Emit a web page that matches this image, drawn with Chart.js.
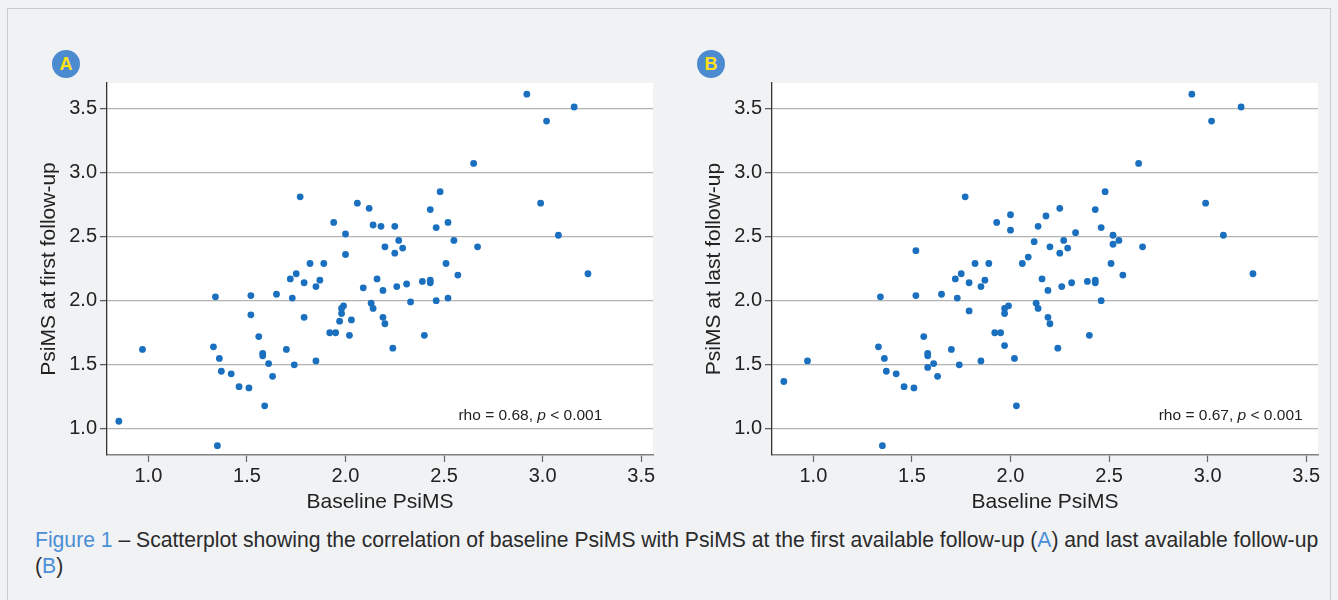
<!DOCTYPE html>
<html>
<head>
<meta charset="utf-8">
<script src="https://cdn.jsdelivr.net/npm/chart.js@4.4.0/dist/chart.umd.min.js"></script>
<style>
  body { margin: 0; background: #f1f2f4; font-family: "Liberation Sans", Arial, sans-serif; width: 1338px; height: 600px; overflow: hidden; }
  #frame { position: absolute; left: 7px; top: 8px; width: 1324px; height: 600px; border: 1px solid #c9cbcf; border-bottom: none; box-sizing: border-box; }
  .panel { position: absolute; top: 75px; width: 630px; height: 445px; }
  .badge { position: absolute; top: 50px; width: 28px; height: 28px; border-radius: 50%; background: #4d8bd0; color: #ffe11a; font-weight: bold; font-size: 18px; line-height: 28px; text-align: center; }
  #caption { position: absolute; left: 35px; top: 527px; font-size: 21.15px; line-height: 26px; color: #2b2b2b; white-space: nowrap; }
  #caption .blue { color: #4a8fd6; }
</style>
</head>
<body>
<div id="frame"></div>
<div class="badge" style="left:52px">A</div>
<div class="badge" style="left:697px">B</div>
<div class="panel" style="left:30px"><canvas id="chartA" width="630" height="445"></canvas></div>
<div class="panel" style="left:695px"><canvas id="chartB" width="630" height="445"></canvas></div>
<div id="caption"><span class="blue">Figure 1</span> – Scatterplot showing the correlation of baseline PsiMS with PsiMS at the first available follow-up (<span class="blue">A</span>) and last available follow-up<br>(<span class="blue">B</span>)</div>

<script>
// Panel A: baseline vs first follow-up
const baselineA = [1.77, 2.48, 2.06, 2.12, 2.43, 1.94, 2.52, 2.14, 2.18, 2.25, 2.46, 2.00, 2.27, 2.55, 2.20, 2.29, 2.25, 2.00, 1.82, 1.89, 2.51,
  1.75, 1.72, 2.57, 1.87, 1.79, 1.85, 2.16, 2.39, 2.43, 2.43, 2.31, 2.26, 2.09, 2.19, 1.34, 1.52, 1.65, 1.73, 2.46, 2.52, 2.33,
  2.13, 2.14, 1.99, 1.98, 1.98, 1.52, 1.79, 1.97, 2.03, 2.19, 2.20, 1.92, 1.95, 2.02, 2.40, 1.56, 2.24, 1.33, 1.70, 1.36, 1.58,
  1.58, 1.61, 1.74, 1.85, 1.37, 1.42, 1.63, 2.92, 3.16, 3.02, 2.65, 2.99, 3.08, 2.67, 3.23, 0.85, 0.97, 1.35, 1.59, 1.46, 1.51];
const followupA = [2.81, 2.85, 2.76, 2.72, 2.71, 2.61, 2.61, 2.59, 2.58, 2.58, 2.57, 2.52, 2.47, 2.47, 2.42, 2.41, 2.37, 2.36, 2.29, 2.29, 2.29,
  2.21, 2.17, 2.20, 2.16, 2.14, 2.11, 2.17, 2.15, 2.16, 2.14, 2.13, 2.11, 2.10, 2.08, 2.03, 2.04, 2.05, 2.02, 2.00, 2.02, 1.99,
  1.98, 1.94, 1.96, 1.94, 1.90, 1.89, 1.87, 1.84, 1.85, 1.87, 1.82, 1.75, 1.75, 1.73, 1.73, 1.72, 1.63, 1.64, 1.62, 1.55, 1.59,
  1.57, 1.51, 1.50, 1.53, 1.45, 1.43, 1.41, 3.61, 3.51, 3.40, 3.07, 2.76, 2.51, 2.42, 2.21, 1.06, 1.62, 0.87, 1.18, 1.33, 1.32];

// Panel B: baseline vs last follow-up
const baselineB = [1.77, 2.48, 2.25, 2.43, 2.00, 2.18, 1.93, 2.14, 2.46, 2.00, 2.33, 2.52, 2.55, 2.52, 2.12, 2.27, 2.20, 2.29, 2.25, 1.52, 2.09,
  2.06, 1.82, 1.89, 2.51, 1.75, 1.72, 2.57, 1.87, 1.79, 1.85, 2.16, 2.39, 2.43, 2.43, 2.31, 2.26, 2.19, 1.34, 1.52, 1.65, 1.73,
  2.46, 1.99, 1.97, 1.97, 2.13, 2.14, 1.79, 2.19, 2.20, 1.92, 1.95, 2.40, 1.56, 1.97, 2.24, 1.33, 1.70, 1.36, 1.58, 1.58, 1.61,
  1.58, 1.74, 1.85, 2.02, 1.37, 1.42, 1.63, 2.92, 3.17, 3.02, 2.65, 2.99, 3.08, 2.67, 3.23, 0.85, 0.97, 1.35, 2.03, 1.46, 1.51];
const followupB = [2.81, 2.85, 2.72, 2.71, 2.67, 2.66, 2.61, 2.58, 2.57, 2.55, 2.53, 2.51, 2.47, 2.44, 2.46, 2.47, 2.42, 2.41, 2.37, 2.39, 2.34,
  2.29, 2.29, 2.29, 2.29, 2.21, 2.17, 2.20, 2.16, 2.14, 2.11, 2.17, 2.15, 2.16, 2.14, 2.14, 2.11, 2.08, 2.03, 2.04, 2.05, 2.02,
  2.00, 1.96, 1.94, 1.90, 1.98, 1.94, 1.92, 1.87, 1.82, 1.75, 1.75, 1.73, 1.72, 1.65, 1.63, 1.64, 1.62, 1.55, 1.59, 1.57, 1.51,
  1.48, 1.50, 1.53, 1.55, 1.45, 1.43, 1.41, 3.61, 3.51, 3.40, 3.07, 2.76, 2.51, 2.42, 2.21, 1.37, 1.53, 0.87, 1.18, 1.33, 1.32];

const xTicks = [1.0, 1.5, 2.0, 2.5, 3.0, 3.5];
const yTicks = [1.0, 1.5, 2.0, 2.5, 3.0, 3.5];

const font = '"Liberation Sans", Arial, sans-serif';

// white plot area + rho annotation
const panelPlugin = {
    id: 'panel',
    beforeDraw(chart) {
        const { ctx, chartArea: a } = chart;
        ctx.save();
        ctx.fillStyle = '#ffffff';
        ctx.fillRect(a.left, a.top, a.right - a.left, a.bottom - a.top);
        ctx.restore();
    },
    afterDatasetsDraw(chart, args, opts) {
        if (!opts.rho) return;
        const ctx = chart.ctx;
        const x = chart.scales.x.getPixelForValue(opts.x);
        const y = chart.scales.y.getPixelForValue(opts.y);
        const parts = [
            ['rho = ' + opts.rho + ', ', 'normal'],
            ['p', 'italic'],
            [' < 0.001', 'normal']
        ];
        ctx.save();
        ctx.fillStyle = '#222';
        ctx.textBaseline = 'middle';
        let total = 0;
        parts.forEach(p => { ctx.font = p[1] + ' 15.5px ' + font; total += ctx.measureText(p[0]).width; });
        let cx = x - total;
        parts.forEach(p => {
            ctx.font = p[1] + ' 15.5px ' + font;
            ctx.fillText(p[0], cx, y);
            cx += ctx.measureText(p[0]).width;
        });
        ctx.restore();
    }
};

function makeChart(id, xs, ys, yTitle, rho, rhoX) {
    const points = xs.map((v, i) => ({ x: v, y: ys[i] }));
    return new Chart(document.getElementById(id), {
        type: 'scatter',
        data: {
            datasets: [{
                data: points,
                backgroundColor: '#1a70bf',
                borderColor: '#1a70bf',
                borderWidth: 0,
                pointRadius: 3.4
            }]
        },
        options: {
            responsive: false,
            animation: false,
            events: [],
            layout: { padding: { top: 8, right: 7, left: 0, bottom: 0 } },
            plugins: {
                legend: { display: false },
                tooltip: { enabled: false },
                panel: { rho: rho, x: rhoX, y: 1.10 }
            },
            scales: {
                x: {
                    type: 'linear',
                    min: 0.79,
                    max: 3.56,
                    afterFit: s => { s.height = 65; s.paddingLeft = 0; s.paddingRight = 0; },
                    afterBuildTicks: s => { s.ticks = xTicks.map(v => ({ value: v })); },
                    grid: { drawOnChartArea: false, drawTicks: true, tickLength: 7, tickColor: '#666', tickWidth: 1.2 },
                    border: { color: '#808080', width: 1.5 },
                    ticks: { color: '#222', font: { family: font, size: 20 }, padding: 2, maxRotation: 0, callback: v => v.toFixed(1) },
                    title: { display: true, text: 'Baseline PsiMS', color: '#222', font: { family: font, size: 21 }, padding: { top: 4, bottom: 5 } }
                },
                y: {
                    type: 'linear',
                    min: 0.797,
                    max: 3.697,
                    afterFit: s => { s.width = 77; s.paddingTop = 0; s.paddingBottom = 0; },
                    afterBuildTicks: s => { s.ticks = yTicks.map(v => ({ value: v })); },
                    grid: { color: '#b3b3b3', lineWidth: 1.3, tickLength: 7, tickColor: '#555', tickWidth: 1.2 },
                    border: { color: '#333', width: 1.3 },
                    ticks: { color: '#222', font: { family: font, size: 20 }, padding: 3, callback: v => v.toFixed(1) },
                    title: { display: true, text: yTitle, color: '#222', font: { family: font, size: 21 }, padding: { top: 7, bottom: 0 } }
                }
            }
        },
        plugins: [panelPlugin]
    });
}

makeChart('chartA', baselineA, followupA, 'PsiMS at first follow-up', '0.68', 3.303);
makeChart('chartB', baselineB, followupB, 'PsiMS at last follow-up', '0.67', 3.482);
</script>
</body>
</html>
